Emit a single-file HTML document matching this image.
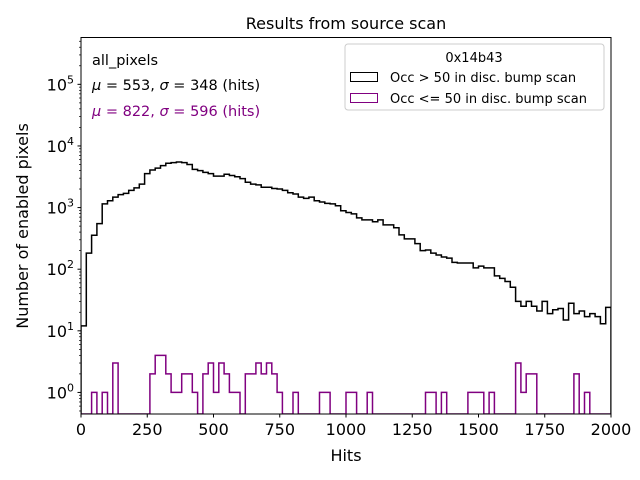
<!DOCTYPE html>
<html><head><meta charset="utf-8">
<style>
html,body{margin:0;padding:0;background:#fff;}
svg{display:block;font-family:"DejaVu Sans","Liberation Sans",sans-serif;}
</style></head>
<body>
<svg id="chart" width="640" height="480" viewBox="0 0 640 480">
<rect width="640" height="480" fill="#fff"/>
<text x="346" y="29" font-size="16" text-anchor="middle">Results from source scan</text>
<g id="plot"></g>
<rect x="81" y="37.5" width="530" height="376.5" fill="none" stroke="#000" stroke-width="1"/>
<text x="346" y="461" font-size="16" text-anchor="middle">Hits</text>
<text transform="translate(28,226) rotate(-90)" font-size="16" text-anchor="middle">Number of enabled pixels</text>
<g>
<text x="92" y="65" font-size="14.5">all_pixels</text>
<text x="92" y="90" font-size="14.5"><tspan font-style="italic">μ</tspan> = 553, <tspan font-style="italic">σ</tspan> = 348 (hits)</text>
<text x="92" y="116" font-size="14.5" fill="#800080"><tspan font-style="italic">μ</tspan> = 822, <tspan font-style="italic">σ</tspan> = 596 (hits)</text>
</g>
<g>
<rect x="345" y="44" width="259" height="66" rx="3" fill="#fff" fill-opacity="0.8" stroke="#ccc"/>
<text x="474" y="62" font-size="13" text-anchor="middle">0x14b43</text>
<rect x="350.5" y="72.5" width="27" height="9" fill="none" stroke="#000"/>
<text x="390" y="82" font-size="13">Occ &gt; 50 in disc. bump scan</text>
<rect x="350.5" y="93.5" width="27" height="9" fill="none" stroke="#800080"/>
<text x="390" y="103" font-size="13">Occ &lt;= 50 in disc. bump scan</text>
</g>
</svg>
<script>
const binEdgesStart = 0;
const binWidth = 20;
const blackCounts = [12,182,355,550,1150,1290,1480,1620,1700,1900,2090,2400,3550,4070,4370,4790,5250,5370,5500,5370,5010,4170,3980,3720,3550,3240,3240,3470,3310,3160,2950,2570,2400,2340,2140,2140,2040,2000,1900,1740,1660,1480,1410,1480,1290,1230,1170,1150,1070,
890,830,790,680,630,630,590,630,525,525,470,360,310,310,260,200,205,182,170,158,151,129,126,126,126,105,112,105,105,78,71,63,51,
30,25,30,25,21,30,19,22,23,15,28,19,21,17,19,17,13,24];
const purpleIdx = [2,4,6,13,14,15,16,17,18,19,20,21,23,24,25,26,27,28,29,31,32,33,34,35,36,37,40,45,46,50,51,54,65,66,68,73,74,75,77,82,83,84,85,93,95];
const purpleVals = [1,1,3,2,4,4,2,1,1,2,2,1,2,3,1,3,2,1,1,2,2,3,2,3,2,1,1,1,1,1,1,1,1,1,1,1,1,1,1,3,1,2,2,2,1];
const xTicks = [0,250,500,750,1000,1250,1500,1750,2000];
const yDecades = [0,1,2,3,4,5];

const X0=81, X1=611, Y0=414, Y1=37.5;
const XMIN=0, XMAX=2000, LMIN=-0.35, LMAX=5.76;
const xs = v => X0 + (v-XMIN)/(XMAX-XMIN)*(X1-X0);
const ys = v => v<=0 ? Y0 : Y0 - (Math.log10(v)-LMIN)/(LMAX-LMIN)*(Y0-Y1);
const NS="http://www.w3.org/2000/svg";
const plot=document.getElementById('plot');
function mk(tag,attrs){const e=document.createElementNS(NS,tag);for(const k in attrs)e.setAttribute(k,attrs[k]);return e;}

function stepPath(counts){
  let d="M"+xs(binEdgesStart)+","+Y0;
  counts.forEach((c,i)=>{
    const xa=xs(binEdgesStart+i*binWidth), xb=xs(binEdgesStart+(i+1)*binWidth);
    const y=ys(c);
    d+=" L"+xa+","+y+" L"+xb+","+y;
  });
  d+=" L"+xs(binEdgesStart+counts.length*binWidth)+","+Y0;
  return d;
}
const purpleCounts = new Array(100).fill(0);
purpleIdx.forEach((k,j)=>{purpleCounts[k]=purpleVals[j];});

const clip=mk('clipPath',{id:'pc'});clip.appendChild(mk('rect',{x:X0,y:Y1,width:X1-X0,height:Y0-Y1}));
plot.appendChild(clip);

const pb=mk('path',{d:stepPath(blackCounts),fill:'none',stroke:'#000','stroke-width':1.5,'clip-path':'url(#pc)'});


plot.appendChild(pb);
const pp=mk('path',{d:stepPath(purpleCounts),fill:'none',stroke:'#800080','stroke-width':1.5,'clip-path':'url(#pc)'});


plot.appendChild(pp);

xTicks.forEach(t=>{
  const x=xs(t);
  const l=mk('line',{x1:x,x2:x,y1:Y0,y2:Y0+3.5,stroke:'#000'});
  
  
  plot.appendChild(l);
  const tx=mk('text',{x:x,y:Y0+21,'font-size':16,'text-anchor':'middle'});
  tx.textContent=t;
  
  
  plot.appendChild(tx);
});
for(let d=-1; d<=6; d++){
  for(let m=1;m<=9;m++){
    const v=m*Math.pow(10,d), lv=Math.log10(v);
    if(lv<LMIN||lv>LMAX) continue;
    const y=ys(v);
    const len=m===1?3.5:2;
    const l=mk('line',{x1:X0-len,x2:X0,y1:y,y2:y,stroke:'#000','stroke-width':m===1?1:0.7});
    
    
    plot.appendChild(l);
  }
}
yDecades.forEach(d=>{
  const y=ys(Math.pow(10,d));
  const tx=mk('text',{x:X0-7,y:y+6,'font-size':16,'text-anchor':'end'});
  tx.textContent='10';
  const sp=mk('tspan',{'font-size':11,dy:-7});sp.textContent=String(d);
  tx.appendChild(sp);
  
  
  plot.appendChild(tx);
});
</script>
</body></html>
